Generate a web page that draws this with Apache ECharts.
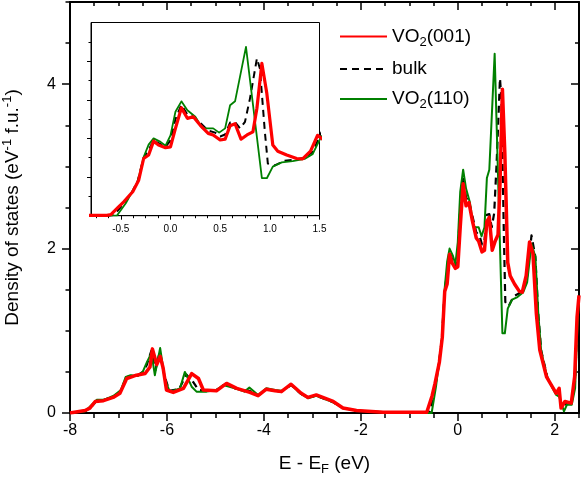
<!DOCTYPE html>
<html>
<head>
<meta charset="utf-8">
<script src="https://cdn.jsdelivr.net/npm/echarts@6/dist/echarts.min.js"></script>
<style>
html, body { margin: 0; padding: 0; background: #fff; }
#main { width: 581px; height: 478px; }
</style>
</head>
<body>
<div id="main"></div>
<script>
// VO2(001) slab
var e001 = [-8, -7.69, -7.59, -7.48, -7.31, -7.11, -6.97, -6.83, -6.73, -6.63, -6.45, -6.35, -6.3, -6.21, -6.14, -6.08, -6.01, -5.87, -5.66, -5.49, -5.35, -5.25, -4.98, -4.77, -4.56, -4.29, -4.12, -3.95, -3.77, -3.64, -3.44, -3.23, -3.09, -2.92, -2.57, -2.37, -2.09, -1.54, -0.64, -0.6, -0.53, -0.47, -0.38, -0.32, -0.27, -0.22, -0.17, -0.12, -0.05, 0, 0.05, 0.11, 0.17, 0.23, 0.3, 0.38, 0.43, 0.5, 0.55, 0.6, 0.65, 0.71, 0.77, 0.83, 0.87, 0.92, 0.97, 1.03, 1.08, 1.17, 1.27, 1.33, 1.41, 1.48, 1.55, 1.62, 1.69, 1.83, 2.03, 2.09, 2.13, 2.21, 2.34, 2.41, 2.46, 2.5];
var dos001 = [0, 0.03, 0.06, 0.14, 0.15, 0.19, 0.24, 0.42, 0.44, 0.46, 0.48, 0.56, 0.78, 0.59, 0.69, 0.55, 0.28, 0.25, 0.3, 0.48, 0.42, 0.28, 0.27, 0.36, 0.3, 0.25, 0.21, 0.29, 0.27, 0.26, 0.35, 0.24, 0.19, 0.22, 0.14, 0.06, 0.03, 0.01, 0.01, 0.03, 0.21, 0.36, 0.62, 0.92, 1.48, 1.57, 1.93, 1.83, 1.76, 1.78, 2.26, 2.79, 2.52, 2.56, 2.34, 2.13, 2.09, 1.96, 1.98, 2.33, 2.38, 1.98, 2.09, 2.17, 2.78, 3.94, 3.16, 1.83, 1.67, 1.57, 1.48, 1.47, 1.67, 2.08, 1.94, 1.21, 0.77, 0.44, 0.24, 0.3, 0.06, 0.14, 0.12, 0.44, 1.17, 1.43];

// bulk
var eBulk = [-8, -7.69, -7.55, -7.45, -7.3, -7.1, -6.95, -6.85, -6.75, -6.6, -6.5, -6.42, -6.32, -6.24, -6.15, -6.05, -5.95, -5.75, -5.6, -5.45, -5.35, -5.18, -4.98, -4.8, -4.6, -4.3, -4.12, -3.95, -3.77, -3.64, -3.44, -3.23, -3.09, -2.92, -2.57, -2.37, -2.09, -1.54, -0.62, -0.57, -0.5, -0.4, -0.33, -0.27, -0.22, -0.17, -0.1, -0.05, 0, 0.05, 0.11, 0.17, 0.23, 0.3, 0.38, 0.45, 0.5, 0.55, 0.6, 0.65, 0.7, 0.75, 0.8, 0.87, 0.9, 0.95, 0.98, 1.05, 1.15, 1.25, 1.35, 1.43, 1.52, 1.6, 1.66, 1.72, 1.85, 2.03, 2.09, 2.15, 2.25, 2.35, 2.42, 2.47, 2.5];
var dosBulk = [0, 0.02, 0.08, 0.15, 0.16, 0.2, 0.26, 0.43, 0.45, 0.46, 0.5, 0.58, 0.76, 0.52, 0.74, 0.45, 0.27, 0.29, 0.47, 0.37, 0.28, 0.27, 0.28, 0.35, 0.3, 0.27, 0.21, 0.29, 0.27, 0.26, 0.34, 0.23, 0.19, 0.21, 0.13, 0.06, 0.03, 0.01, 0, 0.02, 0.22, 0.55, 0.9, 1.5, 1.7, 1.95, 1.85, 1.78, 1.95, 2.5, 2.87, 2.62, 2.57, 2.4, 2.2, 2.15, 2.05, 2.1, 2.41, 2.42, 2.26, 2.43, 3.03, 4.07, 3.81, 2.17, 1.35, 1.3, 1.42, 1.45, 1.5, 1.65, 2.16, 1.9, 1.2, 0.76, 0.43, 0.23, 0.25, 0.05, 0.13, 0.12, 0.4, 1.2, 1.45];

// VO2(110) slab
var e110 = [-8, -7.69, -7.55, -7.45, -7.3, -7.1, -6.95, -6.85, -6.75, -6.6, -6.5, -6.42, -6.32, -6.25, -6.14, -6.04, -5.94, -5.73, -5.63, -5.49, -5.39, -5.18, -4.98, -4.84, -4.6, -4.4, -4.3, -4.12, -3.95, -3.77, -3.64, -3.44, -3.23, -3.09, -2.92, -2.57, -2.37, -2.09, -1.54, -0.62, -0.54, -0.45, -0.33, -0.27, -0.22, -0.17, -0.1, -0.05, 0, 0.05, 0.11, 0.17, 0.25, 0.32, 0.37, 0.43, 0.49, 0.55, 0.6, 0.65, 0.76, 0.92, 0.97, 1.03, 1.12, 1.23, 1.35, 1.43, 1.52, 1.6, 1.66, 1.72, 1.85, 2.03, 2.09, 2.19, 2.25, 2.35, 2.42, 2.47, 2.5];
var dos110 = [0, 0.02, 0.1, 0.16, 0.16, 0.21, 0.28, 0.44, 0.46, 0.45, 0.5, 0.61, 0.73, 0.46, 0.79, 0.4, 0.26, 0.3, 0.5, 0.32, 0.26, 0.26, 0.28, 0.34, 0.3, 0.26, 0.31, 0.22, 0.3, 0.28, 0.27, 0.34, 0.23, 0.18, 0.21, 0.13, 0.06, 0.03, 0.01, 0, 0, 0.32, 0.88, 1.52, 1.84, 2.0, 1.91, 1.81, 2.08, 2.69, 2.96, 2.73, 2.56, 2.27, 2.26, 2.26, 2.15, 2.26, 2.86, 2.96, 4.37, 0.97, 0.97, 1.27, 1.38, 1.41, 1.47, 1.59, 2.06, 1.9, 1.21, 0.75, 0.42, 0.22, 0.2, 0.02, 0.1, 0.1, 0.3, 1.1, 1.4];

var mainXLabels = [-8, -6, -4, -2, 0, 2];
var mainYLabels = [0, 2, 4];
var insetXLabels = [-0.5, 0, 0.5, 1, 1.5];
var insetYMajor = [1, 2, 3, 4];

var FONT = '"Liberation Sans", Arial, sans-serif';

function pairs(xs, ys) {
    return xs.map(function (x, i) { return [x, ys[i]]; });
}

function steps(from, to, step, skip) {
    var out = [];
    for (var t = from; t <= to + 1e-9; t += step) {
        if (!skip || skip.indexOf(t) < 0) out.push(t);
    }
    return out;
}

var mainXMinor = steps(-8, 2.5, 0.5, mainXLabels);
var mainYMinor = steps(0, 5, 0.5, mainYLabels);
var insetXMinor = steps(-0.75, 1.5, 0.125, insetXLabels);
var insetYMinor = steps(0.5, 4.5, 1);

function line(name, xs, ys, color, width, dashed, axis) {
    return {
        name: name,
        type: 'line',
        data: pairs(xs, ys),
        xAxisIndex: axis,
        yAxisIndex: axis,
        symbol: 'none',
        showSymbol: false,
        lineStyle: { color: color, width: width, type: dashed ? [7, 5] : 'solid', join: 'round' },
        itemStyle: { color: color },
        emphasis: { disabled: true }
    };
}

var sub = {
    n: { fontSize: 19, fontFamily: FONT, color: '#000', lineHeight: 24 },
    s: { fontSize: 13, fontFamily: FONT, color: '#000', lineHeight: 12, verticalAlign: 'bottom' },
    p: { fontSize: 13, fontFamily: FONT, color: '#000', lineHeight: 12, verticalAlign: 'top' }
};

// one axis of a pair: the visible line + labels + major ticks, or only minor ticks
function axis(grid, pos, min, max, ticks, len, inside, width, withLine, label) {
    return {
        gridIndex: grid, type: 'value', min: min, max: max, position: pos,
        axisLine: withLine ? { onZero: false, lineStyle: { color: '#000', width: width } } : { show: false, onZero: false },
        axisTick: { customValues: ticks, inside: inside, length: len, lineStyle: { color: '#000', width: width > 1 ? 1.5 : 1 } },
        axisLabel: label || { show: false },
        splitLine: { show: false }
    };
}

var mainXLabel = { customValues: mainXLabels, fontSize: 16, fontFamily: FONT, color: '#000', margin: 10 };
var mainYLabel = { customValues: mainYLabels, fontSize: 16, fontFamily: FONT, color: '#000', margin: 14 };
var insetXLabel = {
    customValues: insetXLabels, fontSize: 10, fontFamily: FONT, color: '#000', margin: 9,
    formatter: function (v) { return v.toFixed(1); }
};

var bottom = axis(0, 'bottom', -8, 2.5, mainXLabels, 8, false, 2, true, mainXLabel);
bottom.name = '{n|E - E}{s|F}{n| (eV)}';
bottom.nameLocation = 'middle';
bottom.nameGap = 39;
bottom.nameTextStyle = { rich: sub };

var left = axis(0, 'left', 0, 5, mainYLabels, 8, false, 2, true, mainYLabel);
left.name = '{n|Density of states (eV}{p|-1}{n| f.u.}{p|-1}{n|)}';
left.nameLocation = 'middle';
left.nameGap = 45;
left.nameTextStyle = { rich: sub };

var myChart = echarts.init(document.getElementById('main'));

var option = {
    animation: false,
    backgroundColor: '#fff',
    grid: [
        { left: 70, right: 2, top: 2, bottom: 65, containLabel: false, outerBoundsMode: 'none' },
        { left: 91, right: 261.5, top: 22.5, bottom: 262.3, containLabel: false, outerBoundsMode: 'none',
          show: true, borderColor: '#000', borderWidth: 1, backgroundColor: 'transparent' }
    ],
    legend: {
        data: ['VO2(001)', 'bulk', 'VO2(110)'],
        orient: 'vertical',
        left: 339,
        top: 27,
        padding: 0,
        itemWidth: 47,
        itemHeight: 14,
        itemGap: 11,
        itemStyle: { color: 'rgba(0,0,0,0)', borderColor: 'rgba(0,0,0,0)', borderWidth: 0 },
        textStyle: { fontSize: 19, fontFamily: FONT, color: '#000', rich: sub },
        formatter: function (name) {
            if (name === 'bulk') return '{n|bulk}';
            return '{n|VO}{s|2}{n|' + name.slice(3) + '}';
        }
    },
    xAxis: [
        bottom,
        axis(0, 'bottom', -8, 2.5, mainXMinor, 5, false, 2, false),
        axis(0, 'top', -8, 2.5, mainXLabels, 8, true, 2, true),
        axis(0, 'top', -8, 2.5, mainXMinor, 4, true, 2, false),
        axis(1, 'bottom', -0.8, 1.5, insetXLabels, 4, false, 1, true, insetXLabel),
        axis(1, 'bottom', -0.8, 1.5, insetXMinor, 2.5, false, 1, false)
    ],
    yAxis: [
        left,
        axis(0, 'left', 0, 5, mainYMinor, 4.5, false, 2, false),
        axis(0, 'right', 0, 5, mainYLabels, 8, true, 2, true),
        axis(0, 'right', 0, 5, mainYMinor, 4, true, 2, false),
        axis(1, 'left', 0, 5, insetYMajor, 4, false, 1, true),
        axis(1, 'left', 0, 5, insetYMinor, 2.5, false, 1, false)
    ],
    series: [
        line('bulk', eBulk, dosBulk, '#000000', 2.2, true, 0),
        line('VO2(110)', e110, dos110, '#008000', 2, false, 0),
        line('VO2(001)', e001, dos001, '#ff0000', 3.5, false, 0),
        line('bulk', eBulk, dosBulk, '#000000', 2, true, 4),
        line('VO2(110)', e110, dos110, '#008000', 1.8, false, 4),
        line('VO2(001)', e001, dos001, '#ff0000', 3.2, false, 4)
    ]
};

myChart.setOption(option);
</script>
</body>
</html>
